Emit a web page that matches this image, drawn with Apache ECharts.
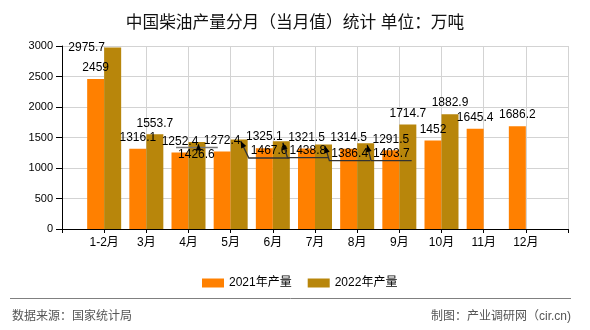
<!DOCTYPE html>
<html>
<head>
<meta charset="utf-8">
<script src="https://cdn.jsdelivr.net/npm/echarts/dist/echarts.min.js"></script>
<style>html,body{margin:0;padding:0;background:#fff}#c{width:590px;height:330px}</style>
</head>
<body>
<div id="c"></div>
<script>
// ---- data ----
const months = ['1-2月', '3月', '4月', '5月', '6月', '7月', '8月', '9月', '10月', '11月', '12月'];
const output2021 = [2459, 1316.1, 1252.4, 1272.4, 1325.1, 1321.5, 1314.5, 1291.5, 1452, 1645.4, 1686.2];
const output2022 = [2975.7, 1553.7, 1426.6, 1467.6, 1438.8, 1386.4, 1403.7, 1714.7, 1882.9];
const seriesNames = ['2021年产量', '2022年产量'];
const titleText = '中国柴油产量分月（当月值）统计 单位：万吨';
const sourceText = '数据来源：国家统计局';
const makerText = '制图：产业调研网（cir.cn)';

// ---- label displacement styles for 2022 labels: [dx, dy, leader mode] ----
const shift2022 = [[-26, 11.7, null], null, [-0.6, 23.5, 'top'], [30, 22.5, 'bottom'], [26.5, 20.4, 'bottom'], [26.2, 20.2, 'bottom'], [25.7, 21.3, 'bottom'], null, null];

const FONT = '"Liberation Sans", "Noto Sans CJK SC", sans-serif';
const axisCats = [''].concat(months, ['']);
function pad(arr) {
  const out = ['-'].concat(arr);
  while (out.length < axisCats.length) out.push('-');
  return out;
}

const leaders = {};
const chart = echarts.init(document.getElementById('c'), null, {renderer: 'canvas'});

const option = {
  animation: false,
  backgroundColor: '#fff',
  title: {
    text: titleText, left: 'center', top: 10,
    textStyle: {fontSize: 16.7, fontWeight: 'normal', color: '#111', fontFamily: FONT}
  },
  legend: {
    data: seriesNames, left: 197, top: 272, icon: 'rect',
    itemWidth: 22, itemHeight: 9, itemGap: 16,
    textStyle: {fontSize: 12, color: '#000', fontFamily: FONT}
  },
  grid: {left: 62, right: 22, top: 46, bottom: 101, containLabel: false},
  xAxis: {
    type: 'category', data: axisCats, boundaryGap: false,
    axisLine: {lineStyle: {color: '#000', width: 1}},
    axisTick: {show: true, interval: 0, length: 4, lineStyle: {color: '#000'}},
    axisLabel: {interval: 0, margin: 8, color: '#000', fontSize: 12, fontFamily: FONT},
    splitLine: {show: true, interval: 0, lineStyle: {color: '#d3d3d3', width: 1}}
  },
  yAxis: {
    type: 'value', min: 0, max: 3000, interval: 500,
    axisLine: {show: true, lineStyle: {color: '#000', width: 1}},
    axisTick: {show: true, length: 6, lineStyle: {color: '#000'}},
    axisLabel: {margin: 9, color: '#000', fontSize: 11, fontFamily: FONT, formatter: function (v) { return String(v); }},
    splitLine: {show: true, lineStyle: {color: '#d3d3d3', width: 1}}
  },
  series: [
    {
      name: seriesNames[0], type: 'bar', data: pad(output2021),
      barWidth: 17, barGap: '0%',
      itemStyle: {color: '#FF8000'},
      label: {show: true, position: 'top', distance: 5, color: '#000', fontSize: 12, fontFamily: FONT}
    },
    {
      name: seriesNames[1], type: 'bar', data: pad(output2022),
      barWidth: 17, barGap: '0%',
      itemStyle: {color: '#B8860B'},
      label: {show: true, position: 'top', distance: 5, color: '#000', fontSize: 12, fontFamily: FONT},
      labelLayout: function (p) {
        const s = shift2022[p.dataIndex - 1];
        if (!s) return {};
        if (s[2]) {
          leaders[p.dataIndex] = {
            rect: {x: p.rect.x, y: p.rect.y, width: p.rect.width, height: p.rect.height},
            label: {x: p.labelRect.x, y: p.labelRect.y, width: p.labelRect.width, height: p.labelRect.height},
            dx: s[0], dy: s[1], mode: s[2]
          };
        }
        return {dx: s[0], dy: s[1]};
      }
    }
  ]
};
chart.setOption(option);

// ---- leader lines with arrowheads, built from library-computed rects ----
function buildLeaders() {
  const els = [];
  Object.keys(leaders).forEach(function (k) {
    const d = leaders[k];
    const L = d.label.x + d.dx - 2;
    const R = d.label.x + d.dx + d.label.width + 2;
    const T = d.label.y + d.dy;
    const B = T + d.label.height;
    const tip = [d.rect.x + d.rect.width / 2 + 1.5, d.rect.y + 1.5];
    let pts, from;
    if (d.mode === 'top') {
      pts = [[L, T - 1], [R + 1, T - 1]];
      from = [tip[0], T - 1];
      els.push({type: 'polyline', z: 100, shape: {points: pts}, style: {stroke: '#777', lineWidth: 1.6, fill: null}});
    } else {
      from = [L, B + 1];
      pts = [[R, B + 1], [L, B + 1], tip];
      els.push({type: 'polyline', z: 100, shape: {points: pts}, style: {stroke: '#333', lineWidth: 1.3, fill: null}});
    }
    const vx = tip[0] - from[0], vy = tip[1] - from[1];
    const len = Math.sqrt(vx * vx + vy * vy) || 1;
    const ux = vx / len, uy = vy / len;
    const nx = -uy, ny = ux;
    const hl = 7, hw = 2.8;
    const b1 = [tip[0] - ux * hl + nx * hw, tip[1] - uy * hl + ny * hw];
    const b2 = [tip[0] - ux * hl - nx * hw, tip[1] - uy * hl - ny * hw];
    els.push({type: 'polygon', z: 101, shape: {points: [tip, b1, b2]}, style: {fill: '#000', stroke: null}});
  });
  return els;
}

const staticEls = [
  {type: 'line', z: 100, shape: {x1: 10, y1: 298.5, x2: 571, y2: 298.5}, style: {stroke: '#808080', lineWidth: 1}},
  {type: 'text', z: 100, x: 12, y: 317, style: {text: sourceText, font: '12px ' + FONT, fill: '#555', textVerticalAlign: 'middle', verticalAlign: 'middle'}},
  {type: 'text', z: 100, x: 571, y: 317, style: {text: makerText, font: '12px ' + FONT, fill: '#555', textAlign: 'right', align: 'right', textVerticalAlign: 'middle', verticalAlign: 'middle'}}
];

chart.setOption({graphic: {elements: staticEls.concat(buildLeaders())}});
</script>
</body>
</html>
